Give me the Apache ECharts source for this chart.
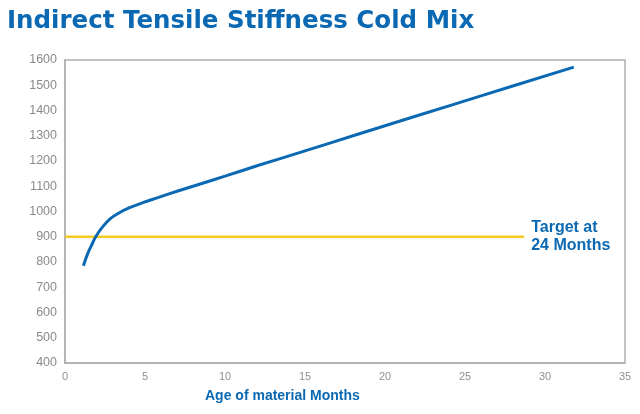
<!DOCTYPE html>
<html>
<head>
<meta charset="utf-8">
<script src="https://cdn.jsdelivr.net/npm/echarts@6/dist/echarts.min.js"></script>
<style>html,body{margin:0;padding:0;background:#fff;}#c{width:640px;height:414px;}</style>
</head>
<body>
<div id="c"></div>
<script>
const titleText = 'Indirect Tensile Stiffness Cold Mix';
const xAxisName = 'Age of material Months';
const targetLabel = 'Target at\n24 Months';
const ageMonths = [1.15, 1.4, 1.7, 1.92, 2.3, 2.8, 3.4, 4.0, 4.9, 5.8, 7.0, 8.5, 10.0, 12.1, 14.7, 18.4, 22.1, 26.0, 31.8];
const stiffness = [785, 830, 872, 900, 935, 970, 995, 1014, 1036, 1055, 1080, 1110, 1140, 1183, 1234, 1308, 1381, 1458, 1572];
const targetX = [0, 28.7];
const targetValue = 900;

const blue = '#0b69b3';
const yellow = '#f6c923';
const chart = echarts.init(document.getElementById('c'));
chart.setOption({
  animation: false,
  title: {
    text: titleText, left: 2, top: 4,
    textStyle: { fontFamily: 'DejaVu Sans', fontSize: 24.5, fontWeight: 'bold', color: blue }
  },
  grid: { left: 65, right: 15, top: 60, bottom: 51, show: true, borderColor: '#b0b0b0', borderWidth: 1.5 },
  xAxis: {
    type: 'value', min: 0, max: 35, interval: 5,
    axisLine: { lineStyle: { color: '#b0b0b0', width: 1.5 } },
    axisTick: { show: false }, splitLine: { show: false },
    axisLabel: { color: '#909090', fontSize: 11, fontFamily: 'Liberation Sans', margin: 8 }
  },
  yAxis: {
    type: 'value', min: 400, max: 1600, interval: 100,
    axisLine: { show: true, lineStyle: { color: '#b0b0b0', width: 1.5 } },
    axisTick: { show: false }, splitLine: { show: false },
    axisLabel: { color: '#8a8a8a', fontSize: 12.5, fontFamily: 'Liberation Sans', margin: 8, formatter: v => String(v) }
  },
  graphic: [{
    type: 'text', left: 205, top: 389,
    style: { text: xAxisName, fill: blue, font: 'bold 14px "Liberation Sans"' }
  }],
  series: [
    {
      type: 'line', data: targetX.map(x => [x, targetValue]), showSymbol: false,
      lineStyle: { color: yellow, width: 2.5 }, itemStyle: { color: yellow },
      endLabel: { show: true, formatter: targetLabel, distance: 7, color: blue, fontWeight: 'bold', fontSize: 16, lineHeight: 18, fontFamily: 'Liberation Sans' }
    },
    {
      type: 'line', data: ageMonths.map((x, i) => [x, stiffness[i]]), smooth: 0.4, showSymbol: false,
      lineStyle: { color: blue, width: 3 }, itemStyle: { color: blue }
    }
  ]
});
</script>
</body>
</html>
